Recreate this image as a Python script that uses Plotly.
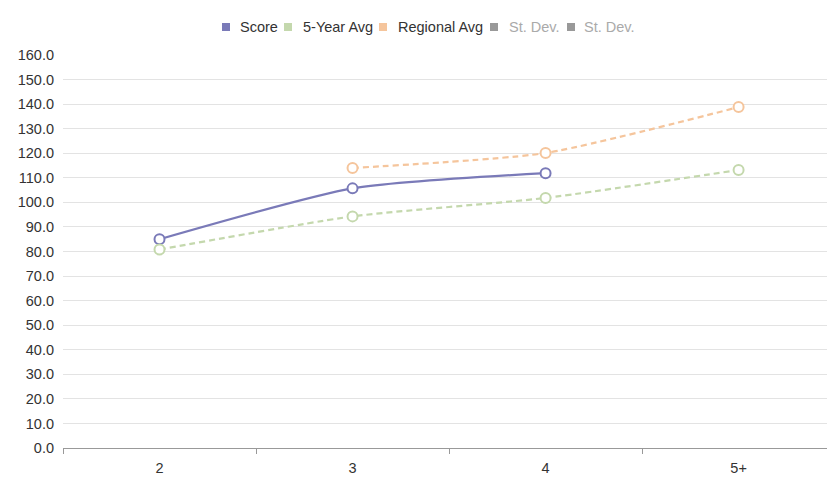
import plotly.graph_objects as go

categories = ["2", "3", "4", "5+"]
score = [85.0, 105.7, 111.9, None]
five_year_avg = [80.8, 94.3, 101.8, 113.2]
regional_avg = [None, 114.0, 120.1, 138.8]
y_ticks = [i * 10 for i in range(17)]

legend_names = ["Score", "5-Year Avg", "Regional Avg", "St. Dev.", "St. Dev."]
legend_colors = ["#7a7ab8", "#c4d8ad", "#f5c59c", "#999999", "#999999"]
legend_text_colors = ["#333333", "#333333", "#333333", "#aaaaaa", "#aaaaaa"]

series = [
    ("Score", score, "#7a7ab8", "solid"),
    ("5-Year Avg", five_year_avg, "#c4d8ad", "6px,4px"),
    ("Regional Avg", regional_avg, "#f5c59c", "6px,4px"),
]

# page geometry (body margin removed via post_script)
W, H = 827, 483
L, R, T, B = 63, 0, 55, 483 - 448
pw, ph = W - L - R, H - T - B


def px_x(x):
    return (x - L) / pw


def px_y(y):
    return (H - B - y) / ph


fig = go.Figure()
for name, vals, color, dash in series:
    fig.add_trace(go.Scatter(
        x=categories, y=vals, mode="lines+markers", name=name,
        line=dict(color=color, width=2.2, dash=dash, shape="spline", smoothing=0.6),
        marker=dict(symbol="circle", size=10, color="white", line=dict(color=color, width=2)),
        showlegend=False, connectgaps=False,
    ))

# legend drawn as squares + text
square_x = [222, 284, 379, 490, 567]
text_x = [238, 301, 396, 507, 582]
leg_y = 27
sq = 8
shapes = []
annotations = []
for i, name in enumerate(legend_names):
    shapes.append(dict(
        type="rect", xref="paper", yref="paper",
        x0=px_x(square_x[i]), x1=px_x(square_x[i] + sq),
        y0=px_y(leg_y + sq / 2), y1=px_y(leg_y - sq / 2),
        fillcolor=legend_colors[i], line=dict(width=0),
    ))
    annotations.append(dict(
        text=name, xref="paper", yref="paper", x=px_x(text_x[i]), y=px_y(leg_y),
        xanchor="left", yanchor="middle", showarrow=False,
        font=dict(size=14.5, color=legend_text_colors[i]),
    ))

fig.update_layout(
    width=W, height=H,
    margin=dict(l=L, r=R, t=T, b=B),
    paper_bgcolor="white", plot_bgcolor="white",
    font=dict(family="Liberation Sans, Arial, sans-serif", size=13, color="#333333"),
    showlegend=False,
    shapes=shapes, annotations=annotations,
)

fig.update_xaxes(
    type="category", categoryorder="array", categoryarray=categories,
    range=[-0.5, 3.458], tickson="boundaries", ticks="outside", ticklen=5,
    tickcolor="#999999", showline=True, linecolor="#999999", linewidth=1,
    showgrid=False, zeroline=False, tickfont=dict(size=14.5, color="#333333"),
    automargin=False, ticklabelstandoff=7,
)
fig.update_yaxes(
    range=[0, 160], tickvals=y_ticks, ticktext=[f"{v:.1f}" for v in y_ticks],
    showgrid=True, gridcolor="#e3e3e3", gridwidth=1, zeroline=False,
    showline=False, ticks="", tickfont=dict(size=14.5, color="#333333"),
    automargin=False, ticklabelstandoff=8,
)

fig.write_html(
    "out.html",
    config={"displayModeBar": False},
    post_script="document.body.style.margin='0';document.body.style.overflow='hidden';",
)
